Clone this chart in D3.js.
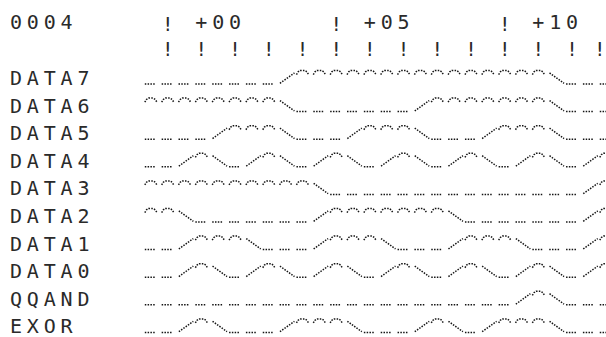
<!DOCTYPE html>
<html><head><meta charset="utf-8">
<script src="https://cdn.jsdelivr.net/npm/d3@7"></script>
<style>html,body{margin:0;padding:0;background:#fff;}svg{display:block;}</style>
</head><body>
<svg id="c" width="606" height="337"></svg>
<script>
// ---- data ----
const headerLabel = "0004";
const signals = ["DATA7","DATA6","DATA5","DATA4","DATA3","DATA2","DATA1","DATA0","QQAND","EXOR"];
const samples = d3.range(14);               // sample index 0..13
const tickLabels = ["+00","+05","+10"];
const tickLabelSamples = [0,5,10];
const DATA7 = [0,0,0,0,1,1,1,1,1,1,1,1,0,0];
const DATA6 = [1,1,1,1,0,0,0,0,1,1,1,1,0,0];
const DATA5 = [0,0,1,1,0,0,1,1,0,0,1,1,0,0];
const DATA4 = [0,1,0,1,0,1,0,1,0,1,0,1,0,1];
const DATA3 = [1,1,1,1,1,0,0,0,0,0,0,0,0,1];
const DATA2 = [1,0,0,0,0,1,1,1,1,0,0,0,0,1];
const DATA1 = [0,1,1,0,0,1,1,0,0,1,1,0,0,1];
const DATA0 = [0,1,0,1,0,1,0,1,0,1,0,1,0,1];
const QQAND = [0,0,0,0,0,0,0,0,0,0,0,1,0,0];
const EXOR  = [0,1,0,0,1,1,0,0,1,0,1,1,0,0];
const series = {DATA7,DATA6,DATA5,DATA4,DATA3,DATA2,DATA1,DATA0,QQAND,EXOR};

// ---- layout ----
const svg = d3.select("#c");
const CW = 16.85;                                   // character cell width
const xCol = d3.scaleLinear().domain([0,1]).range([10,10+CW]);   // column -> px
const colOfSample = d3.scaleLinear().domain([0,13]).range([9,35]);
const yRow = d3.scalePoint().domain(signals).range([84, 84+27.6*9]);
const yLev = d3.scaleLinear().domain([0,1]).range([0,-13.5]);
const font = "DejaVu Sans Mono, Liberation Mono, monospace";
const fs = 20, ls = CW - fs*0.602;
const ink = "#2a2a2a";

function txt(str, col, y, dx){
  svg.append("text").attr("x", xCol(col) + (dx||0)).attr("y", y)
    .attr("font-family", font).attr("font-size", fs)
    .attr("letter-spacing", str.length > 1 ? ls : 0).attr("fill", ink)
    .attr("xml:space","preserve").text(str);
}

// header row
txt(headerLabel, 0, 29);
tickLabelSamples.forEach((s,i)=>{
  const c = colOfSample(s);
  txt("!", c, 31);
  txt(tickLabels[i], c+2, 29);
});
// tick row
samples.forEach(s=> txt("!", colOfSample(s), 56, s===13 ? -6 : 0));

// labels
signals.forEach(name => txt(name, 0, yRow(name)+1));

// ---- waveform cells ----
const shapes = {
  low:  [[0,0],[0.66,0]],
  high: [[0,0.7],[0.1,0.9],[0.22,1],[0.5,1],[0.62,0.9],[0.72,0.7]],
  rise: [[0.02,0.05],[0.88,0.82]],
  fall: [[0.02,0.82],[0.88,0.05]]
};
const line = d3.line();
signals.forEach(name=>{
  const v = series[name];
  const cells = [];
  for (let c = 8; c <= 35; c++){
    let type;
    if (c % 2 === 1){
      const k = Math.round(colOfSample.invert(c));
      type = v[k] ? "high" : "low";
    } else {
      const kNext = Math.round(colOfSample.invert(c+1));
      const kPrev = Math.max(0, kNext-1);
      const a = v[kPrev], b = v[kNext];
      type = a===b ? (a ? "high" : "low") : (b ? "rise" : "fall");
    }
    cells.push({c, type});
  }
  const y0 = yRow(name);
  svg.append("g").selectAll("path").data(cells).join("path")
    .attr("d", d => line(shapes[d.type].map(([u,l]) => [xCol(d.c+u), y0+yLev(l)])))
    .attr("fill","none").attr("stroke","#151515")
    .attr("stroke-width",1.5).attr("stroke-dasharray","1.5 1.3");
});
</script>
</body></html>
